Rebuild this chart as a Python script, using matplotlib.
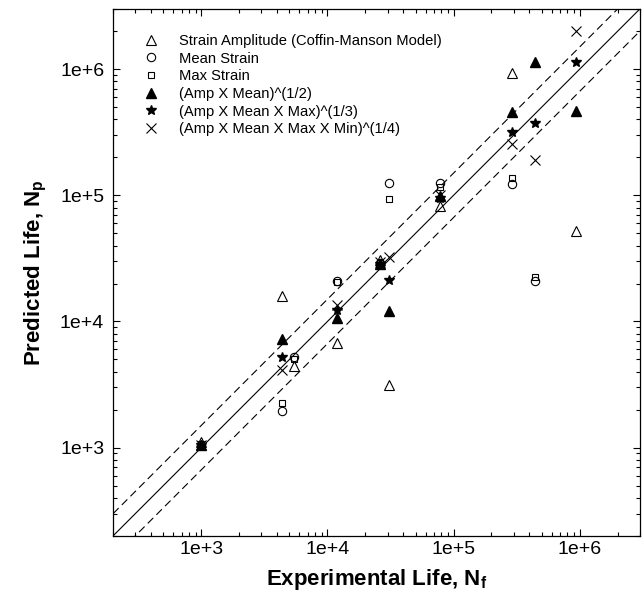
import numpy as np
import matplotlib.pyplot as plt
from matplotlib.ticker import FixedLocator, LogLocator, NullFormatter, FuncFormatter

plt.rcParams['font.family'] = ['Liberation Sans', 'DejaVu Sans']
plt.rcParams['mathtext.fontset'] = 'custom'
plt.rcParams['mathtext.rm'] = 'Liberation Sans'
plt.rcParams['mathtext.bf'] = 'Liberation Sans:bold'

nan = np.nan

# experimental life (x) shared by all series
experimental = [1000, 4380, 5440, 11900, 25900, 31000, 77500, 292000, 443000, 930000]

# predicted life for each model (nan = not shown)
amp = [1100, 16000, 4450, 6700, 30500, 3150, 82000, 940000, nan, 52000]
mean = [1040, 1950, 5250, 21000, 29000, 126000, 126000, 124000, 21000, nan]
maxs = [1060, 2250, 5000, 20500, 29000, 93000, 116000, 138000, 22500, nan]
amp_mean = [1050, 7200, nan, 10600, 28500, 12000, 99000, 460000, 1150000, 470000]
amp_mean_max = [1050, 5200, nan, 12400, 28700, 21200, 95000, 320000, 375000, 1150000]
amp_mean_max_min = [1050, 4150, nan, 13500, 29500, 32500, 101000, 255000, 192000, 2000000]

labels = ['Strain Amplitude (Coffin-Manson Model)', 'Mean Strain', 'Max Strain',
          '(Amp X Mean)^(1/2)', '(Amp X Mean X Max)^(1/3)',
          '(Amp X Mean X Max X Min)^(1/4)']

fig = plt.figure(figsize=(6.43, 6.02), dpi=100)
ax = fig.add_axes([0.176, 0.110, 0.819, 0.875])

lims = [200, 3e6]
line = np.array(lims)
ax.plot(line, line, color='black', lw=0.8)
ax.plot(line, line * 1.5, color='black', lw=0.8, dashes=(7, 4))
ax.plot(line, line / 1.5, color='black', lw=0.8, dashes=(7, 4))

open_kw = dict(linestyle='none', markerfacecolor='none', markeredgecolor='black',
               markeredgewidth=0.8)
filled_kw = dict(linestyle='none', color='black')

ax.plot(experimental, amp, marker='^', markersize=7, label=labels[0], **open_kw)
ax.plot(experimental, mean, marker='o', markersize=6, label=labels[1], **open_kw)
ax.plot(experimental, maxs, marker='s', markersize=5, label=labels[2], **open_kw)
ax.plot(experimental, amp_mean, marker='^', markersize=6.5, label=labels[3], **filled_kw)
ax.plot(experimental, amp_mean_max, marker='*', markersize=7, label=labels[4], **filled_kw)
ax.plot(experimental, amp_mean_max_min, marker='x', markersize=7, markeredgewidth=0.8,
        linestyle='none', color='black', label=labels[5])

ax.set_xscale('log')
ax.set_yscale('log')
ax.set_xlim(lims)
ax.set_ylim(lims)

fmt = FuncFormatter(lambda v, p: '1e+%d' % round(np.log10(v)))
for axis in (ax.xaxis, ax.yaxis):
    axis.set_major_locator(FixedLocator([1e3, 1e4, 1e5, 1e6]))
    axis.set_major_formatter(fmt)
    axis.set_minor_locator(LogLocator(base=10, subs=np.arange(2, 10), numticks=20))
    axis.set_minor_formatter(NullFormatter())

ax.tick_params(which='both', direction='in', top=True, right=True, labelsize=14)
ax.tick_params(which='major', length=5, width=0.8)
ax.tick_params(which='minor', length=3, width=0.8)
ax.tick_params(axis='x', which='major', pad=4)
ax.tick_params(axis='y', which='major', pad=6.5)
for s in ax.spines.values():
    s.set_linewidth(0.9)

ax.set_xlabel(r'Experimental Life, $\mathbf{N_f}$', fontsize=16, fontweight='bold', labelpad=6)
ax.set_ylabel(r'Predicted Life, $\mathbf{N_p}$', fontsize=16, fontweight='bold', labelpad=8)

ax.legend(loc='upper left', bbox_to_anchor=(0.03, 0.978), frameon=False, fontsize=10.6,
          labelspacing=0.25, handletextpad=1.3, handlelength=1.2)

fig.savefig('out.png', dpi=100)
